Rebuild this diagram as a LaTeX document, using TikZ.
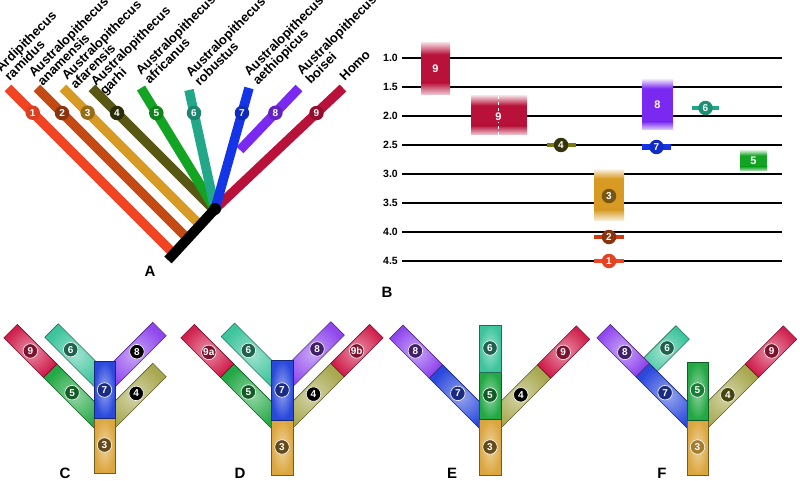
\documentclass[tikz,border=0pt]{standalone}
\usepackage{fontspec}
\setmainfont{Liberation Sans}

\definecolor{ramidus}{HTML}{F04424}
\definecolor{anamensis}{HTML}{C44A14}
\definecolor{afarensis}{HTML}{D89A22}
\definecolor{garhi}{HTML}{585814}
\definecolor{africanus}{HTML}{14A424}
\definecolor{robustus}{HTML}{22A888}
\definecolor{aethiopicus}{HTML}{1434E8}
\definecolor{boisei}{HTML}{7A2AF0}
\definecolor{homo}{HTML}{B8123A}
\definecolor{boxHomo}{HTML}{D0204E}
\definecolor{boxRob}{HTML}{3CC49C}
\definecolor{boxAfr}{HTML}{22A844}
\definecolor{boxBoi}{HTML}{9048EE}
\definecolor{boxAet}{HTML}{2A48DC}
\definecolor{boxGar}{HTML}{A8A850}
\definecolor{boxAfa}{HTML}{DCA63E}

\begin{document}
\begin{tikzpicture}[
    x=1pt, y=-1pt,
    branch/.style={line width=9.5pt},
    taxon/.style={rotate=45, anchor=south west, align=left, inner sep=0pt, font=\bfseries\fontsize{13}{12.5}\selectfont},
    badge/.style={circle, fill=#1, text=white, inner sep=0pt, minimum size=14.5pt, font=\bfseries\fontsize{10}{10}\selectfont},
    ring/.style={draw=white, line width=0.6pt},
    seg/.style={draw=#1!55!black, line width=0.6pt, inner color=#1!50!white, outer color=#1},
    yearlbl/.style={anchor=east, inner sep=1pt, font=\bfseries\fontsize{10.5}{10.5}\selectfont},
    tline/.style={line width=1.4pt},
    bartext/.style={text=white, inner sep=1pt, font=\bfseries\fontsize{11}{11}\selectfont},
    paneltag/.style={font=\bfseries\fontsize{15}{15}\selectfont}
]
\useasboundingbox (0,0) rectangle (800,481);

% A: arbre
\coordinate (root) at (168,260);
\coordinate (fork) at (215,209);
\coordinate (join) at (240,150);
\coordinate (t1) at (8,88);
\coordinate (t2) at (37,88);
\coordinate (t3) at (63,88);
\coordinate (t4) at (92,88);
\coordinate (t5) at (141,88);
\coordinate (t6) at (189,90);
\coordinate (t7) at (249,88);
\coordinate (t8) at (299,88);
\coordinate (t9) at (343,88);
\coordinate (b1) at (173,253);
\coordinate (b2) at (187,238);
\coordinate (b3) at (200,225);
\coordinate (b4) at (214,210);

\draw[branch, ramidus] (t1) -- (b1) node[badge=ramidus!92!black, pos=0.15] (a1) {1};
\draw[branch, anamensis] (t2) -- (b2) node[badge=anamensis!70!black, pos=0.167] (a2) {2};
\draw[branch, afarensis] (t3) -- (b3) node[badge=afarensis!70!black, pos=0.18] (a3) {3};
\draw[branch, garhi] (t4) -- (b4) node[badge=garhi!50!black, pos=0.205] (a4) {4};
\draw[branch, africanus] (t5) -- (fork) node[badge=africanus!80!black, pos=0.207] (a5) {5};
\draw[branch, robustus] (t6) -- (fork) node[badge=robustus!80!black, pos=0.193] (a6) {6};
\draw[branch, homo] (t9) -- (fork) node[badge=homo!80!black, pos=0.207] (a9) {9};
\draw[branch, boisei] (t8) -- (join) node[badge=boisei!80!black, pos=0.4] (a8) {8};
\draw[branch, aethiopicus] (t7) -- (fork) node[badge=aethiopicus!80!black, pos=0.207] (a7) {7};
\draw[line width=10pt] (root) -- (fork);
\fill (fork) circle (6);

\node[taxon] (l1) at (10,82) {Ardipithecus\\ramidus};
\node[taxon] (l2) at (43,87) {Australopithecus\\anamensis};
\node[taxon] (l3) at (76,90) {Australopithecus\\afarensis};
\node[taxon] (l4) at (107,98) {Australopithecus\\garhi};
\node[taxon] (l5) at (150,85) {Australopithecus\\africanus};
\node[taxon] (l6) at (200,87) {Australopithecus\\robustus};
\node[taxon] (l7) at (260,88) {Australopithecus\\aethiopicus};
\node[taxon] (l8) at (311,85) {Australopithecus\\boisei};
\node[taxon] (l9) at (345,82) {Homo};
\node[paneltag] (tagA) at (150,271) {A};

% B: echelle de temps
\foreach \t/\y [count=\i] in {1.0/58,1.5/87,2.0/116,2.5/145,3.0/174,3.5/203,4.0/232,4.5/261} {
  \node[yearlbl] (m\i) at (399,\y) {\t};
  \draw[tline] (m\i.east) ++(3,0) -- ++(380,0);
}

% barres
\fill[homo] (421,54) rectangle (450,83);
\shade[top color=homo!20, bottom color=homo] (421,43) rectangle (450,54.5);
\shade[top color=homo, bottom color=homo!20] (421,82.5) rectangle (450,95);
\node[bartext] (h1) at (435.5,69) {9};

\fill[homo] (471,105) rectangle (527,126);
\shade[top color=homo!20, bottom color=homo] (471,96) rectangle (527,105.5);
\shade[top color=homo, bottom color=homo!20] (471,125.5) rectangle (527,135);
\draw[white, line width=1.3pt, dash pattern=on 3pt off 3pt] (498.5,96) -- (498.5,135);
\node[bartext, fill=homo] (h2) at (498.5,117) {9};

\fill[boisei] (642,88) rectangle (673,122);
\shade[top color=boisei!20, bottom color=boisei] (642,80) rectangle (673,88.5);
\shade[top color=boisei, bottom color=boisei!20] (642,121.5) rectangle (673,130);
\node[bartext] (bb) at (657.5,105) {8};

\fill[afarensis] (594,178) rectangle (624,210);
\shade[top color=afarensis!20, bottom color=afarensis] (594,170) rectangle (624,178.5);
\shade[top color=afarensis, bottom color=afarensis!20] (594,209.5) rectangle (624,220);
\node[badge=afarensis!55!black] (bf) at (609,196) {3};

\fill[africanus] (740,155) rectangle (767,167);
\shade[top color=africanus!30, bottom color=africanus] (740,151) rectangle (767,155.5);
\shade[top color=africanus, bottom color=africanus!30] (740,166.5) rectangle (767,171);
\node[bartext] (bc) at (753.5,161) {5};

\fill[garhi!80!yellow] (547,143) rectangle (576,147);
\node[badge=garhi!60!black] (bg) at (561,145) {4};
\fill[robustus] (692,106) rectangle (719,110);
\node[badge=robustus!85!black] (br) at (705.5,108) {6};
\fill[aethiopicus] (642,144) rectangle (671,150);
\node[badge=aethiopicus!85!black] (be) at (656.5,147) {7};
\fill[anamensis!80!red] (594,235) rectangle (624,239);
\node[badge=anamensis!70!black] (bn) at (609,237) {2};
\fill[ramidus] (594,259) rectangle (624,263);
\node[badge=ramidus!95!black] (bd) at (609,261) {1};
\node[paneltag] (tagB) at (387,292) {B};

% C
\begin{scope}[shift={(94,414.6)}, rotate=135]
  \shadedraw[seg=boxAfr] (-9.5,-9.5) rectangle (62,9.5);
  \shadedraw[seg=boxHomo] (62,-9.5) rectangle (118,9.5);
  \node[badge=boxAfr!55!black, ring] (C5) at (31,0) {5};
  \node[badge=boxHomo!60!black, ring] (C9) at (90,0) {9};
\end{scope}
\begin{scope}[shift={(94,373)}, rotate=135]
  \shadedraw[seg=boxRob] (-9.5,-9.5) rectangle (60,9.5);
  \node[badge=boxRob!50!black, ring] (C6) at (33,0) {6};
\end{scope}
\begin{scope}[shift={(115,373.6)}, rotate=45]
  \shadedraw[seg=boxBoi] (-9.5,-9.5) rectangle (63,9.5);
  \node[badge=black, ring] (C8) at (31,0) {8};
\end{scope}
\begin{scope}[shift={(115,414.6)}, rotate=45]
  \shadedraw[seg=boxGar] (-9.5,-9.5) rectangle (63,9.5);
  \node[badge=black, ring] (C4) at (30,0) {4};
\end{scope}
\shadedraw[seg=boxAfa] (94,418) rectangle (115,473);
\shadedraw[seg=boxAet] (94,361) rectangle (115,418);
\node[badge=boxAfa!45!black, ring] (C3) at (104.5,445) {3};
\node[badge=boxAet!60!black, ring] (C7) at (104.5,390) {7};
\node[paneltag] (tagC) at (65,473) {C};

% D
\begin{scope}[shift={(271,414.6)}, rotate=135]
  \shadedraw[seg=boxAfr] (-9.5,-9.5) rectangle (62,9.5);
  \shadedraw[seg=boxHomo] (62,-9.5) rectangle (118,9.5);
  \node[badge=boxAfr!55!black, ring] (D5) at (32,0) {5};
  \node[badge=boxHomo!60!black, ring] (D9a) at (88,0) {9a};
\end{scope}
\begin{scope}[shift={(271,373)}, rotate=135]
  \shadedraw[seg=boxRob] (-9.5,-9.5) rectangle (61,9.5);
  \node[badge=boxRob!50!black, ring] (D6) at (32,0) {6};
\end{scope}
\begin{scope}[shift={(293,373)}, rotate=45]
  \shadedraw[seg=boxBoi] (-9.5,-9.5) rectangle (63,9.5);
  \node[badge=boxBoi!45!black, ring] (D8) at (34,0) {8};
\end{scope}
\begin{scope}[shift={(293,414.6)}, rotate=45]
  \shadedraw[seg=boxGar] (-9.5,-9.5) rectangle (63,9.5);
  \shadedraw[seg=boxHomo] (63,-9.5) rectangle (118,9.5);
  \node[badge=black, ring] (D4) at (29,0) {4};
  \node[badge=boxHomo!60!black, ring] (D9b) at (90,0) {9b};
\end{scope}
\shadedraw[seg=boxAfa] (271,420) rectangle (293,475);
\shadedraw[seg=boxAet] (271,360) rectangle (293,420);
\node[badge=boxAfa!45!black, ring] (D3) at (282,447) {3};
\node[badge=boxAet!60!black, ring] (D7) at (282,390) {7};
\node[paneltag] (tagD) at (240,473) {D};

% E
\begin{scope}[shift={(479,414.6)}, rotate=135]
  \shadedraw[seg=boxAet] (-9.5,-9.5) rectangle (61,9.5);
  \shadedraw[seg=boxBoi] (61,-9.5) rectangle (117,9.5);
  \node[badge=boxAet!60!black, ring] (E7) at (30,0) {7};
  \node[badge=boxBoi!45!black, ring] (E8) at (90,0) {8};
\end{scope}
\begin{scope}[shift={(501,414.6)}, rotate=45]
  \shadedraw[seg=boxGar] (-9.5,-9.5) rectangle (61,9.5);
  \shadedraw[seg=boxHomo] (61,-9.5) rectangle (116,9.5);
  \node[badge=black, ring] (E4) at (28,0) {4};
  \node[badge=boxHomo!60!black, ring] (E9) at (88,0) {9};
\end{scope}
\shadedraw[seg=boxAfa] (479,419) rectangle (501,475);
\shadedraw[seg=boxAfr] (479,372) rectangle (501,419);
\shadedraw[seg=boxRob] (479,325) rectangle (501,372);
\node[badge=boxAfa!45!black, ring] (E3) at (490,447) {3};
\node[badge=boxAfr!55!black, ring] (E5) at (490,395) {5};
\node[badge=boxRob!50!black, ring] (E6) at (490,348) {6};
\node[paneltag] (tagE) at (452,473) {E};

% F
\begin{scope}[shift={(643.7,371.3)}, rotate=45]
  \shadedraw[seg=boxRob] (0,-9.5) rectangle (55,9.5);
  \node[badge=boxRob!50!black, ring] (F6) at (33,0) {6};
\end{scope}
\begin{scope}[shift={(687,414.6)}, rotate=135]
  \shadedraw[seg=boxAet] (-9.5,-9.5) rectangle (63,9.5);
  \shadedraw[seg=boxBoi] (63,-9.5) rectangle (118,9.5);
  \node[badge=boxAet!60!black, ring] (F7) at (31,0) {7};
  \node[badge=boxBoi!45!black, ring] (F8) at (88,0) {8};
\end{scope}
\begin{scope}[shift={(708,414.6)}, rotate=45]
  \shadedraw[seg=boxGar] (-9.5,-9.5) rectangle (62,9.5);
  \shadedraw[seg=boxHomo] (62,-9.5) rectangle (116,9.5);
  \node[badge=garhi!80!black, ring] (F4) at (28,0) {4};
  \node[badge=boxHomo!60!black, ring] (F9) at (90,0) {9};
\end{scope}
\shadedraw[seg=boxAfa] (687,420) rectangle (708,475);
\shadedraw[seg=boxAfr] (687,362) rectangle (708,420);
\node[badge=boxAfa!75!black, ring] (F3) at (697.5,447) {3};
\node[badge=boxAfr!75!black, ring] (F5) at (697.5,390) {5};
\node[paneltag] (tagF) at (662,473) {F};

\end{tikzpicture}
\end{document}
